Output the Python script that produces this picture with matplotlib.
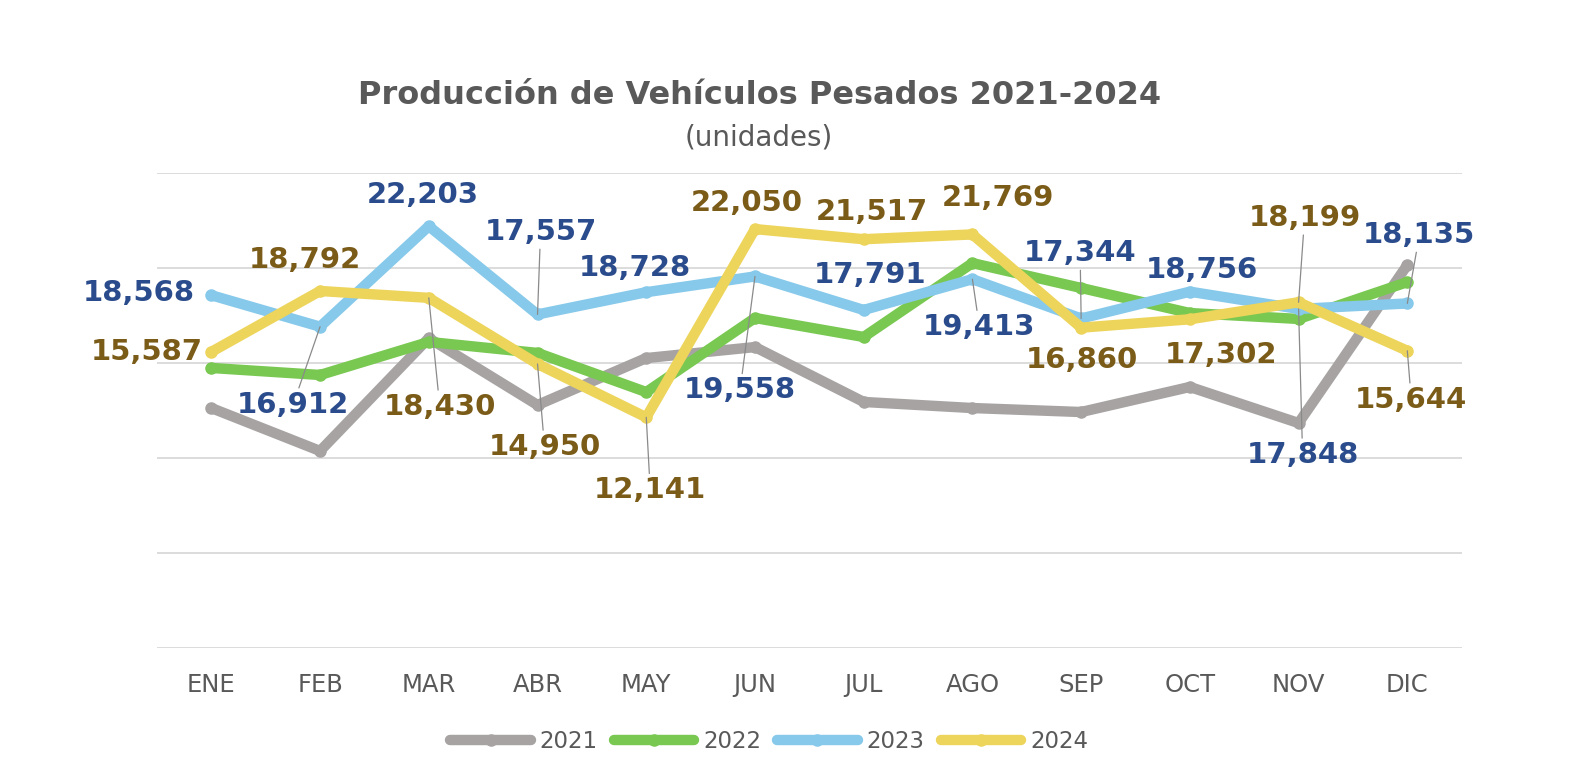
import matplotlib
matplotlib.use('Agg')
import matplotlib.pyplot as plt
import numpy as np

plt.rcParams['font.family'] = ['DejaVu Sans']

meses = ['ENE', 'FEB', 'MAR', 'ABR', 'MAY', 'JUN', 'JUL', 'AGO', 'SEP', 'OCT', 'NOV', 'DIC']

# 2021 y 2022 sin etiquetas
prod_2021 = [12630, 10370, 16310, 12790, 15260, 15840, 12950, 12630, 12420, 13740, 11840, 20160]
prod_2022 = [14740, 14370, 16110, 15530, 13470, 17370, 16370, 20260, 18950, 17630, 17320, 19260]
prod_2023 = [18568, 16912, 22203, 17557, 18728, 19558, 17791, 19413, 17344, 18756, 17848, 18135]
prod_2024 = [15587, 18792, 18430, 14950, 12141, 22050, 21517, 21769, 16860, 17302, 18199, 15644]

# desplazamiento de etiquetas (pixeles) y si llevan linea guia
off_2023 = [(-73, 2, 0), (-27, -78, 1), (-6, 31, 0), (3, 82, 1), (-11, 24, 0), (-15, -114, 1),
            (6, 35, 0), (7, -48, 1), (-1, 65, 1), (12, 22, 0), (4, -146, 1), (12, 68, 1)]
off_2024 = [(-65, 0, 0), (-15, 31, 0), (11, -109, 1), (7, -83, 1), (4, -73, 1), (-8, 26, 0),
            (8, 27, 0), (26, 36, 0), (1, -32, 0), (31, -36, 0), (6, 84, 1), (4, -49, 1)]

series = [('2021', prod_2021, '#A7A3A3'),
          ('2022', prod_2022, '#79C852'),
          ('2023', prod_2023, '#87C9EA'),
          ('2024', prod_2024, '#EDD45B')]

fig = plt.figure(figsize=(15.7, 7.76), dpi=100)
ax = fig.add_axes([0.1, 0.165, 0.831, 0.612])

x = np.arange(len(meses))
for nombre, vals, color in series:
    ax.plot(x, vals, color=color, lw=7.5, marker='o', ms=8, mfc=color, mec=color,
            solid_capstyle='round', solid_joinstyle='round', label=nombre)

def etiquetas(vals, offs, color):
    for i, (v, (dx, dy, guia)) in enumerate(zip(vals, offs)):
        props = dict(arrowstyle='-', color='#8A8A8A', lw=0.9, shrinkA=0, shrinkB=0) if guia else None
        ax.annotate(f'{v:,}', xy=(i, v), xytext=(dx, dy), textcoords='offset pixels',
                    ha='center', va='center', fontsize=21, fontweight='bold', color=color,
                    arrowprops=props, annotation_clip=False, zorder=6)

etiquetas(prod_2023, off_2023, '#2B4C8C')
etiquetas(prod_2024, off_2024, '#7A5B18')

ax.set_xlim(-0.5, 11.5)
ax.set_ylim(0, 25000)
ax.set_yticks(np.arange(0, 25001, 5000))
ax.set_yticklabels([])
ax.grid(axis='y', color='#D9D9D9', lw=1.3)
ax.set_axisbelow(True)
for s in ax.spines.values():
    s.set_visible(False)
ax.tick_params(axis='both', length=0)
ax.tick_params(axis='x', pad=18, labelsize=17.5, labelcolor='#595959')
ax.set_xticks(x)
ax.set_xticklabels(meses)

fig.text(0.484, 0.877, 'Producción de Vehículos Pesados 2021-2024', ha='center', va='center',
         fontsize=23, fontweight='bold', color='#595959')
fig.text(0.483, 0.823, '(unidades)', ha='center', va='center', fontsize=20, color='#595959')

fig.legend(loc='center', bbox_to_anchor=(0.49, 0.045), ncol=4, frameon=False,
           fontsize=16.5, handlelength=3.5, columnspacing=0.7, handletextpad=0.4,
           labelcolor='#595959')

fig.savefig('out.png', dpi=100)
